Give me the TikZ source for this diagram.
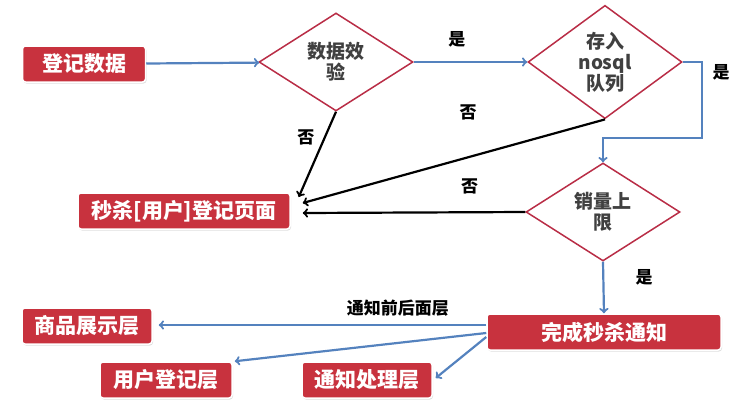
\documentclass[tikz,border=0pt]{standalone}
\usepackage{fontspec}
\setmainfont{Noto Sans CJK SC}
\usetikzlibrary{shapes.geometric,shadows}
\definecolor{boxred}{RGB}{200,50,62}
\definecolor{edgered}{RGB}{185,45,70}
\definecolor{lineblue}{RGB}{84,130,190}
\tikzset{
  redbox/.style={fill=boxred, draw=white, line width=1.5pt, rounded corners=3pt,
    text=white, font=\bfseries\fontsize{21}{23}\selectfont, inner xsep=4pt,
    minimum height=36pt, drop shadow={opacity=0.25, shadow xshift=1pt, shadow yshift=-1.5pt}},
  check/.style={diamond, draw=edgered, line width=1.5pt, fill=white, inner sep=0pt,
    minimum width=154pt, minimum height=98pt, align=center,
    font=\bfseries\fontsize{19}{21}\selectfont, text=black!75},
  yesflow/.style={->, lineblue, line width=2.2pt},
  noflow/.style={->, black, line width=2.2pt},
  answer/.style={font=\bfseries\fontsize{17}{19}\selectfont, text=black}
}
\begin{document}
\begin{tikzpicture}[x=1pt, y=-1pt]
	\useasboundingbox (0,0) rectangle (740,408);
	% top row
	\node[redbox, minimum width=123pt] (dengji) at (84,64) {登记数据};
	\node[check] (jiaoyan) at (336,62) {数据效\\验};
	\node[check] (cunru) at (605,62) {存入\\nosql\\队列};
	\node[check] (xiaoliang) at (603,212) {销量上\\限};
	\node[redbox, minimum width=212pt] (yemian) at (184,211) {秒杀[用户]登记页面};
	% bottom row
	\node[redbox, minimum width=234pt] (wancheng) at (604,332) {完成秒杀通知};
	\node[redbox, minimum width=130pt] (zhanshi) at (87,326) {商品展示层};
	\node[redbox, minimum width=132pt] (yonghu) at (166,380) {用户登记层};
	\node[redbox, minimum width=130pt] (chuli) at (367,380) {通知处理层};
	\coordinate (turn) at (702,138);
	% yes flow
	\draw[yesflow] (dengji) -- (jiaoyan);
	\draw[yesflow] (jiaoyan) -- node[answer, above=10pt, pos=0.38] {是} (cunru);
	\draw[yesflow] (cunru.east) -| (turn) -| (xiaoliang.north);
	\node[answer] at (721,72) {是};
	\draw[yesflow] (xiaoliang.south) -- node[answer, right=28pt, pos=0.3] {是} (wancheng.north);
	% no flow
	\draw[noflow] (jiaoyan.south) -- node[answer, left=6pt, pos=0.3] {否} ([xshift=8pt,yshift=14pt]yemian.east);
	\draw[noflow] (cunru.south) -- ([xshift=12pt,yshift=8pt]yemian.east);
	\node[answer] at (468,112) {否};
	\draw[noflow] (xiaoliang.west) -- node[answer, above=14pt, pos=0.25] {否} ([xshift=12pt,yshift=-2pt]yemian.east);
	% notify
	\draw[yesflow] ([yshift=7pt]wancheng.west) -- node[answer, above=4pt, pos=0.27] {通知前后面层} ([xshift=6pt,yshift=1pt]zhanshi.east);
	\draw[yesflow] ([yshift=-1pt]wancheng.west) -- ([xshift=2pt]yonghu.north east);
	\draw[yesflow] ([yshift=-5pt]wancheng.west) -- ([xshift=3pt,yshift=2pt]chuli.east);
\end{tikzpicture}
\end{document}
